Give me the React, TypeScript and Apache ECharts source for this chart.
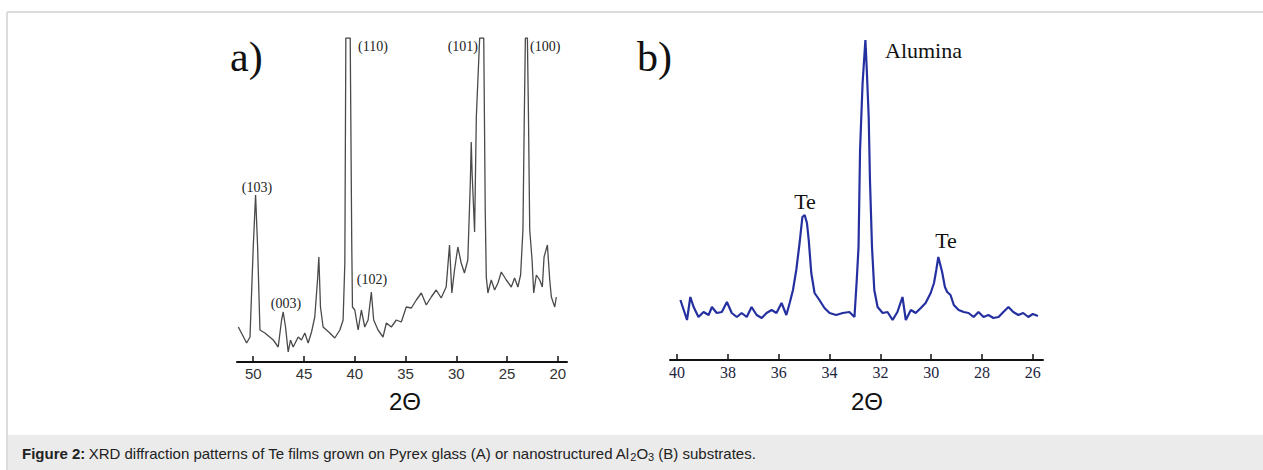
import React, { useEffect, useRef } from "react";
import * as echarts from "echarts";

// Panel a) Te on Pyrex glass: 2θ (deg) and intensity (arb. units)
const pyrexTwoTheta = [
  51.47, 50.65, 50.32, 50.0, 49.77, 49.57, 49.34, 48.85, 48.03, 47.54, 47.21, 47.05, 46.82, 46.56, 46.33, 46.07,
  45.57, 45.25, 44.92, 44.59, 44.26, 43.94, 43.67, 43.54, 43.38, 43.12, 42.46, 41.97, 41.47, 41.15, 40.98, 40.88,
  40.45, 40.3, 40.23, 40.0, 39.67, 39.35, 39.02, 38.69, 38.37, 38.14, 37.71, 37.22, 36.89, 36.4, 35.91, 35.42,
  34.93, 34.43, 33.94, 33.45, 32.96, 32.47, 31.98, 31.49, 31.0, 30.67, 30.44, 30.18, 29.85, 29.52, 29.2, 28.87,
  28.62, 28.53, 28.45, 28.2, 28.03, 27.7, 27.3, 27.15, 27.05, 26.89, 26.56, 26.23, 25.9, 25.57, 25.08, 24.59,
  24.26, 23.94, 23.67, 23.44, 23.3, 23.2, 23.0, 22.9, 22.77, 22.54, 22.38, 22.12, 21.79, 21.53, 21.36, 21.03,
  20.8, 20.64, 20.31, 20.15,
];
const pyrexIntensity = [
  35, 19, 25, 115, 167, 115, 32, 29, 22, 15, 42, 50, 35, 10, 22, 15,
  25, 22, 29, 19, 30, 45, 82, 105, 55, 35, 29, 24, 32, 42, 99, 324,
  324, 120, 55, 52, 32, 52, 35, 42, 70, 42, 32, 25, 39, 35, 42, 40,
  55, 54, 62, 69, 57, 65, 72, 64, 75, 117, 69, 92, 115, 99, 89, 102,
  180, 220, 190, 130, 245, 324, 324, 150, 85, 69, 82, 72, 79, 90, 82, 75,
  84, 75, 87, 132, 250, 324, 324, 250, 132, 102, 69, 87, 82, 75, 105, 117,
  82, 65, 55, 65,
];
const pyrexTicks = [50, 45, 40, 35, 30, 25, 20];

// Panel b) Te on nanostructured Al2O3
const aluminaTwoTheta = [
  39.87, 39.74, 39.61, 39.48, 39.35, 39.16, 38.96, 38.76, 38.63, 38.44, 38.24, 38.04, 37.85, 37.65, 37.46, 37.26,
  37.07, 36.87, 36.67, 36.48, 36.28, 36.09, 35.89, 35.7, 35.57, 35.44, 35.31, 35.18, 35.07, 34.98, 34.89, 34.82,
  34.72, 34.59, 34.4, 34.2, 34.0, 33.74, 33.48, 33.22, 33.02, 32.93, 32.86, 32.8, 32.7, 32.59, 32.54, 32.46,
  32.41, 32.33, 32.24, 32.11, 31.91, 31.72, 31.52, 31.33, 31.13, 31.0, 30.8, 30.61, 30.41, 30.22, 30.02, 29.89,
  29.8, 29.72, 29.66, 29.57, 29.46, 29.37, 29.24, 29.11, 28.92, 28.72, 28.53, 28.33, 28.14, 27.94, 27.75, 27.55,
  27.35, 27.16, 26.96, 26.77, 26.57, 26.38, 26.18, 26.0, 25.8,
];
const aluminaIntensity = [
  60, 50, 40, 63, 53, 43, 48, 45, 53, 47, 48, 58, 47, 43, 47, 43,
  53, 45, 42, 47, 50, 47, 57, 45, 57, 70, 90, 117, 143, 145, 137, 120,
  87, 67, 60, 52, 47, 45, 47, 48, 43, 80, 113, 210, 277, 320, 293, 243,
  180, 113, 70, 53, 47, 48, 40, 48, 63, 40, 50, 47, 52, 57, 67, 77,
  90, 103, 97, 88, 73, 68, 65, 55, 50, 48, 47, 43, 48, 43, 45, 42,
  43, 48, 53, 48, 45, 47, 43, 46, 44,
];
const aluminaTicks = [40, 38, 36, 34, 32, 30, 28, 26];

const pyrexLabels = [
  { text: "(110)", x: 358, y: 46, align: "left" },
  { text: "(101)", x: 478, y: 46, align: "right" },
  { text: "(100)", x: 530, y: 46, align: "left" },
  { text: "(103)", x: 257, y: 187, align: "center" },
  { text: "(003)", x: 286, y: 303, align: "center" },
  { text: "(102)", x: 372, y: 279, align: "center" },
];
const aluminaLabels = [
  { text: "Alumina", x: 885, y: 50, align: "left" },
  { text: "Te", x: 805, y: 201, align: "center" },
  { text: "Te", x: 946, y: 240, align: "center" },
];

export default function App() {
  const ref = useRef<HTMLDivElement>(null);
  useEffect(() => {
    document.body.style.margin = "0";
    const chart = echarts.init(ref.current!, undefined, { renderer: "svg" });
    const serif = "Liberation Serif";
    const sans = "Liberation Sans";
    const axisBase = (min: number, max: number, ticks: number[], gi: number, lblFont: string, lblSize: number, lblColor: string, lineW: number) => ({
      type: "value",
      gridIndex: gi,
      min,
      max,
      inverse: true,
      axisLine: { show: true, onZero: false, lineStyle: { color: "#111", width: lineW } },
      axisTick: { show: true, inside: true, length: 6, customValues: ticks, lineStyle: { color: "#111", width: 1.5 } },
      axisLabel: { show: true, customValues: ticks, margin: 4, fontFamily: lblFont, fontSize: lblSize, color: lblColor },
      splitLine: { show: false },
    });
    const textEl = (t: any, font: string, size: number, color: string) => ({
      type: "text",
      x: t.x,
      y: t.y,
      style: { text: t.text, font: `${size}px "${font}"`, fill: color, textAlign: t.align, textVerticalAlign: "middle" },
    });
    chart.setOption({
      animation: false,
      backgroundColor: "#fff",
      grid: [
        { left: 237, width: 330, top: 38, height: 324 },
        { left: 670, width: 373, top: 40, height: 320 },
      ],
      xAxis: [
        axisBase(19.1, 51.6, pyrexTicks, 0, sans, 15, "#333", 2),
        axisBase(25.6, 40.28, aluminaTicks, 1, serif, 16, "#1c2540", 2),
      ],
      yAxis: [
        { type: "value", gridIndex: 0, min: 0, max: 324, show: false },
        { type: "value", gridIndex: 1, min: 0, max: 320, show: false },
      ],
      series: [
        {
          type: "line",
          xAxisIndex: 0,
          yAxisIndex: 0,
          showSymbol: false,
          data: pyrexTwoTheta.map((t, i) => [t, pyrexIntensity[i]]),
          lineStyle: { color: "#4a4a4a", width: 1.3 },
        },
        {
          type: "line",
          xAxisIndex: 1,
          yAxisIndex: 1,
          showSymbol: false,
          data: aluminaTwoTheta.map((t, i) => [t, aluminaIntensity[i]]),
          lineStyle: { color: "#2530a0", width: 2.2 },
        },
      ],
      graphic: [
        { type: "rect", shape: { x: 8, y: 435, width: 1260, height: 40 }, style: { fill: "#ebebeb" }, z: -1 },
        { type: "line", shape: { x1: 7, y1: 12, x2: 1263, y2: 12 }, style: { stroke: "#dcdcdc", lineWidth: 2 } },
        { type: "line", shape: { x1: 7, y1: 12, x2: 7, y2: 470 }, style: { stroke: "#dcdcdc", lineWidth: 2 } },
        { type: "text", x: 230, y: 57, style: { text: "a)", font: `42px "${serif}"`, fill: "#111", textVerticalAlign: "middle" } },
        { type: "text", x: 637, y: 57, style: { text: "b)", font: `42px "${serif}"`, fill: "#111", textVerticalAlign: "middle" } },
        ...pyrexLabels.map((t) => textEl(t, serif, 14, "#222")),
        ...aluminaLabels.map((t) => textEl(t, serif, 22, "#111")),
        { type: "text", x: 405, y: 401, style: { text: "2Θ", font: `24px "${sans}"`, fill: "#111", textAlign: "center", textVerticalAlign: "middle" } },
        { type: "text", x: 867, y: 401, style: { text: "2Θ", font: `24px "${sans}"`, fill: "#111", textAlign: "center", textVerticalAlign: "middle" } },
        {
          type: "text",
          x: 22,
          y: 453,
          style: {
            text: "{b|Figure 2:} {n|XRD diffraction patterns of Te films grown on Pyrex glass (A) or nanostructured Al}{s|2}{n|O}{s|3}{n| (B) substrates.}",
            textVerticalAlign: "middle",
            rich: {
              b: { fontFamily: sans, fontSize: 15, fontWeight: "bold", fill: "#222", lineHeight: 19 },
              n: { fontFamily: sans, fontSize: 15, fill: "#222", lineHeight: 19 },
              s: { fontFamily: sans, fontSize: 11, fill: "#222", lineHeight: 12, verticalAlign: "bottom" },
            },
          },
        },
      ],
    });
    return () => chart.dispose();
  }, []);
  return <div ref={ref} style={{ width: 1263, height: 470 }} />;
}
